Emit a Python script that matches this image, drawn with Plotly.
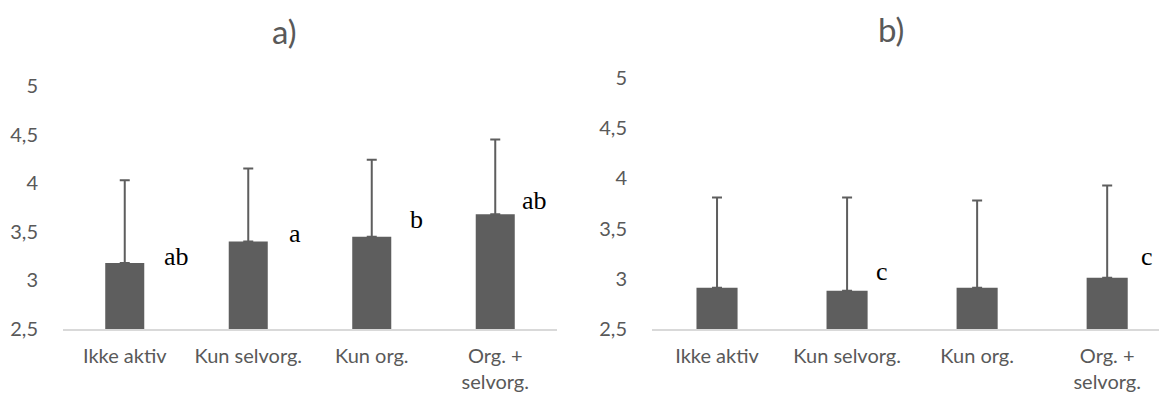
import plotly.graph_objects as go

categories = ["Ikke aktiv", "Kun selvorg.", "Kun org.", "Org. +<br>selvorg."]
a_means = [3.18, 3.40, 3.45, 3.68]
a_err = [0.85, 0.75, 0.79, 0.77]
b_means = [2.91, 2.88, 2.91, 3.01]
b_err = [0.90, 0.93, 0.87, 0.92]
a_letters = ["ab", "a", "b", "ab"]
b_letters = ["", "c", "", "c"]
y_ticks = [2.5, 3, 3.5, 4, 4.5, 5]
y_ticktext = ["2,5", "3", "3,5", "4", "4,5", "5"]

# annotation placement (layout only)
a_letter_pos = [(0.42, 3.25), (1.376, 3.48), (2.36, 3.63), (3.32, 3.82)]
b_letter_pos = [(0, 0), (1.27, 3.07), (0, 0), (3.31, 3.22)]

OFF = 8  # page body margin
W, H = 1167 - OFF, 401 - OFF
BAR = "#5e5e5e"
TXT = "#595959"
FONT = "Lato"


def px(x):
    return (x - OFF) / W


def py(y):
    return 1 - (y - OFF) / H


fig = go.Figure()
fig.add_trace(go.Bar(
    x=categories, y=a_means, xaxis="x", yaxis="y", marker=dict(color=BAR, line=dict(width=0)),
    error_y=dict(type="data", array=a_err, arrayminus=[0] * len(a_err), symmetric=False,
                 color=BAR, thickness=2, width=5),
    showlegend=False))
fig.add_trace(go.Bar(
    x=categories, y=b_means, xaxis="x2", yaxis="y2", marker=dict(color=BAR, line=dict(width=0)),
    error_y=dict(type="data", array=b_err, arrayminus=[0] * len(b_err), symmetric=False,
                 color=BAR, thickness=2, width=5),
    showlegend=False))


def xax(domain, rng, anchor):
    return dict(domain=domain, range=rng, anchor=anchor, type="category",
                showline=True, linecolor="#d9d9d9", linewidth=1.5, showgrid=False,
                ticks="", tickfont=dict(family=FONT, size=20, color=TXT),
                ticklabelstandoff=8, fixedrange=True, automargin=False)


def yax(domain, anchor):
    return dict(domain=domain, range=[2.5, 5], anchor=anchor, showline=False,
                showgrid=False, zeroline=False, tickvals=y_ticks, ticktext=y_ticktext,
                tickfont=dict(family=FONT, size=20, color=TXT), ticks="",
                ticklabelstandoff=24, fixedrange=True, automargin=False)


annotations = []
for lab, (x, y) in zip(a_letters, a_letter_pos):
    if lab:
        annotations.append(dict(text=lab, x=x, y=y, xref="x", yref="y", showarrow=False,
                                font=dict(family="Liberation Serif", size=26, color="black")))
for lab, (x, y) in zip(b_letters, b_letter_pos):
    if lab:
        annotations.append(dict(text=lab, x=x, y=y, xref="x2", yref="y2", showarrow=False,
                                font=dict(family="Liberation Serif", size=26, color="black")))
annotations.append(dict(text="a)", x=px(284), y=py(31), xref="paper", yref="paper",
                        xanchor="center", yanchor="middle",
                        showarrow=False, font=dict(family=FONT, size=33, color=TXT)))
annotations.append(dict(text="b)", x=px(891), y=1.0, xref="paper", yref="paper",
                        xanchor="center", yanchor="top", borderpad=0,
                        showarrow=False, font=dict(family=FONT, size=33, color=TXT)))

fig.update_layout(
    width=W, height=H, margin=dict(l=0, r=0, t=0, b=0),
    paper_bgcolor="white", plot_bgcolor="white", bargap=0.684,
    xaxis=xax([px(63), px(557)], [-0.5, 3.5], "y"),
    yaxis=yax([py(329), py(86)], "x"),
    xaxis2=xax([px(652), 1.0], [-0.5, 3.46], "y2"),
    yaxis2=yax([py(329), py(78)], "x2"),
    annotations=annotations,
)

fig.write_html("out.html")
